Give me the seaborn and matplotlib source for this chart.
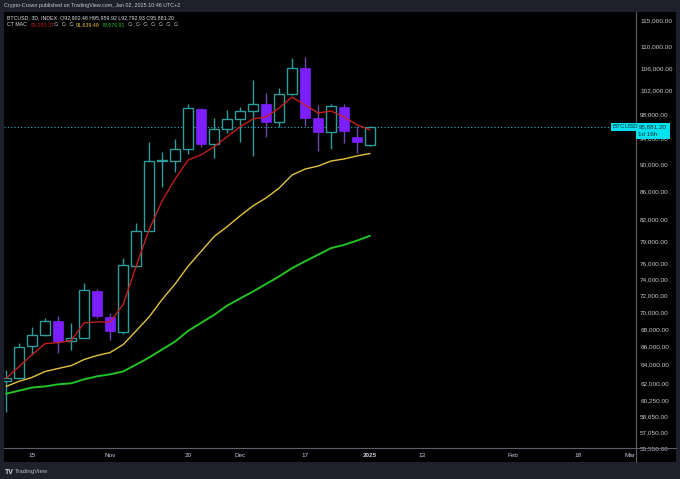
import numpy as np
import pandas as pd
import matplotlib
matplotlib.use('Agg')
import matplotlib.pyplot as plt
import matplotlib.dates as mdates
from matplotlib.patches import Rectangle
from matplotlib.lines import Line2D
from matplotlib.ticker import NullLocator
import seaborn as sns

# BTCUSD 3D candles, last bar opens 2025-01-01
bar_dates = pd.date_range(end='2025-01-01', periods=29, freq='3D')

opens = [62210, 62530, 66110, 67330, 68940, 66670, 67000, 72590, 69410, 67670,
         75650, 80380, 90480, 90480, 92380, 98840, 93170, 95560, 97190, 98510,
         99750, 96710, 101380, 105940, 97320, 95070, 99180, 94290, 92902.48]
highs = [63470, 66440, 68240, 69290, 69530, 68710, 73530, 72820, 69880, 76720,
         81460, 93490, 91900, 93970, 99690, 99010, 97350, 98680, 99180, 103820,
         101540, 102400, 107760, 107940, 99520, 99690, 99690, 96050, 95959.92]
lows = [59050, 62420, 65110, 67220, 65330, 65560, 67000, 69290, 66780, 67440,
        75600, 80300, 86550, 88800, 91590, 92700, 90950, 94940, 93490, 91270,
        94290, 95900, 101210, 96050, 92060, 92380, 93330, 91750, 92792.93]
closes = [62530, 66000, 67330, 68940, 66670, 67000, 72710, 69530, 67780, 75760,
          80380, 90480, 90630, 92380, 99010, 93170, 95560, 97190, 98510, 99750,
          96710, 101380, 105940, 97320, 95070, 99350, 95230, 93490, 95881.20]

# CT MAC moving averages
red_ma = [62530, 63790, 65110, 66330, 66440, 66670, 68710, 68820, 68820, 70870,
          75650, 80510, 84540, 87750, 90630, 91430, 92700, 94290, 95900, 97190,
          97510, 99010, 100870, 99520, 98170, 98510, 97510, 96220, 95400]
yellow_ma = [61670, 62210, 62630, 63260, 63580, 63890, 64560, 65000, 65330, 66220,
             67780, 69410, 71500, 73410, 75650, 77590, 79570, 80920, 82420, 83840,
             84970, 86400, 88350, 89250, 89700, 90480, 90790, 91270, 91639.49]
green_ma = [60910, 61230, 61560, 61670, 61890, 62000, 62420, 62740, 62950, 63260,
            64000, 64780, 65670, 66560, 67780, 68710, 69650, 70750, 71620, 72470,
            73410, 74350, 75410, 76290, 77150, 78020, 78450, 79030, 79676.91]

price_ticks = [55550, 57050, 58650, 60250, 62000, 64000, 66000, 68000, 70000, 72000,
               74000, 76000, 79000, 82000, 86000, 90000, 94000, 98000, 102000,
               106000, 110000, 115000]

date_ticks = pd.to_datetime(['2024-10-15', '2024-11-02', '2024-11-20', '2024-12-02',
                             '2024-12-17', '2025-01-01', '2025-01-13', '2025-02-03',
                             '2025-02-18', '2025-03-02'])
date_labels = ['15', 'Nov', '20', 'Dec', '17', '2025', '13', 'Feb', '18', 'Mar']

last_price = 95881.20

sns.set_theme(style='dark', rc={'axes.facecolor': 'black', 'figure.facecolor': '#1e212b'})
plt.rcParams['font.family'] = ['Liberation Sans', 'DejaVu Sans']

W, H = 680, 479
def fx(px):
    return px / W
def fy(py):
    return 1 - py / H

fig = plt.figure(figsize=(6.8, 4.79), dpi=100)
fig.patches.append(Rectangle((fx(4), fy(462)), fx(672), 450 / H, transform=fig.transFigure,
                             facecolor='black', edgecolor='none', zorder=-1))
ax = fig.add_axes([fx(4), fy(448), fx(632), 436 / H])

up_col = '#2c9c9c'
dn_col = '#7b1fff'

x = mdates.date2num(bar_dates)
o = np.array(opens)
h = np.array(highs)
l = np.array(lows)
c = np.array(closes)
up = c >= o
dn = ~up
lo_body = np.minimum(o, c)
hi_body = np.maximum(o, c)

# wicks
ax.vlines(x[up], l[up], lo_body[up], color=up_col, lw=1, zorder=2)
ax.vlines(x[up], hi_body[up], h[up], color=up_col, lw=1, zorder=2)
ax.vlines(x[dn], l[dn], h[dn], color='#6a4aa8', lw=1, zorder=2)
# bodies
ax.bar(x[up], hi_body[up] - lo_body[up], bottom=lo_body[up], width=2.2,
       facecolor='black', edgecolor=up_col, linewidth=1, zorder=3)
ax.bar(x[dn], hi_body[dn] - lo_body[dn], bottom=lo_body[dn], width=2.2,
       color=dn_col, edgecolor=dn_col, linewidth=0.5, zorder=3)

sns.lineplot(x=x, y=green_ma, ax=ax, color='#22c322', linewidth=1.4, zorder=4)
sns.lineplot(x=x, y=yellow_ma, ax=ax, color='#e3c23c', linewidth=1.0, zorder=4)
sns.lineplot(x=x, y=red_ma, ax=ax, color='#c41e1e', linewidth=1.0, zorder=4)

ax.axhline(last_price, color='#1fb8c8', lw=0.8, ls=(0, (1, 2)), zorder=1)

jan1 = mdates.date2num(pd.Timestamp('2025-01-01'))
ax.set_xlim(jan1 - 84.5, jan1 + 61.4)
ax.set_yscale('log')
ax.set_ylim(55540, 116570)
ax.yaxis.set_minor_locator(NullLocator())
ax.set_yticks(price_ticks)
ax.set_yticklabels([f'{v:,.2f}' for v in price_ticks])
ax.yaxis.tick_right()
ax.set_xticks(mdates.date2num(date_ticks))
ax.set_xticklabels(date_labels)
for t in ax.get_xticklabels():
    if t.get_text() == '2025':
        t.set_fontweight('bold')
ax.tick_params(axis='both', length=0, labelsize=4.6, labelcolor='#c8cad2')
ax.tick_params(axis='y', pad=3)
ax.tick_params(axis='x', pad=3.5)
ax.set_xlabel('')
ax.set_ylabel('')
ax.grid(False)
for s in ax.spines.values():
    s.set_visible(False)

# axis separators
fig.add_artist(Line2D([fx(636), fx(636)], [fy(12), fy(462)], transform=fig.transFigure,
                      color='#5d606b', lw=0.8))
fig.add_artist(Line2D([fx(4), fx(676)], [fy(448), fy(448)], transform=fig.transFigure,
                      color='#5d606b', lw=0.8))

# last price labels
fig.patches.append(Rectangle((fx(636), fy(139)), 34 / W, 16 / H, transform=fig.transFigure,
                             facecolor='#00e1f0', edgecolor='none', zorder=5))
fig.patches.append(Rectangle((fx(611), fy(131)), 25 / W, 8 / H, transform=fig.transFigure,
                             facecolor='#00e1f0', edgecolor='none', zorder=5))
txt = dict(fontsize=4.5, color='#062a30', va='center', ha='left', zorder=6)
fig.text(fx(638.5), fy(127), f'{last_price:,.2f}', **txt)
fig.text(fx(638.5), fy(134.5), '1d 16h', **txt)
fig.text(fx(612.5), fy(127), 'BTCUSD', **txt)

# header and legend
fig.text(fx(4), fy(5.5), 'Crypto-Crown published on TradingView.com, Jan 02, 2025 10:46 UTC+2',
         fontsize=3.9, color='#c8cad2', va='center')
leg = dict(fontsize=3.8, va='center')
fig.text(fx(7), fy(17.5), 'BTCUSD, 3D, INDEX  O92,902.48 H95,959.92 L92,792.93 C95,881.20',
         color='#d8dae0', **leg)
fig.text(fx(7), fy(25), 'CT MAC', color='#d8dae0', **leg)
fig.text(fx(31), fy(25), '95,050.37', color='#c41e1e', **leg)
fig.text(fx(54), fy(25), '∅  ∅  ∅', color='#d8dae0', **leg)
fig.text(fx(76), fy(25), '91,639.49', color='#e3c23c', **leg)
fig.text(fx(102), fy(25), '79,676.91', color='#22c322', **leg)
fig.text(fx(128), fy(25), '∅  ∅  ∅  ∅  ∅  ∅  ∅', color='#d8dae0', **leg)

fig.text(fx(5), fy(472), 'TV', fontsize=5, fontweight='bold', color='#d8dae0', va='center')
fig.text(fx(14.5), fy(472), 'TradingView', fontsize=4.3, color='#b8bac2', va='center')

fig.savefig('out.png', dpi=100, facecolor=fig.get_facecolor())
